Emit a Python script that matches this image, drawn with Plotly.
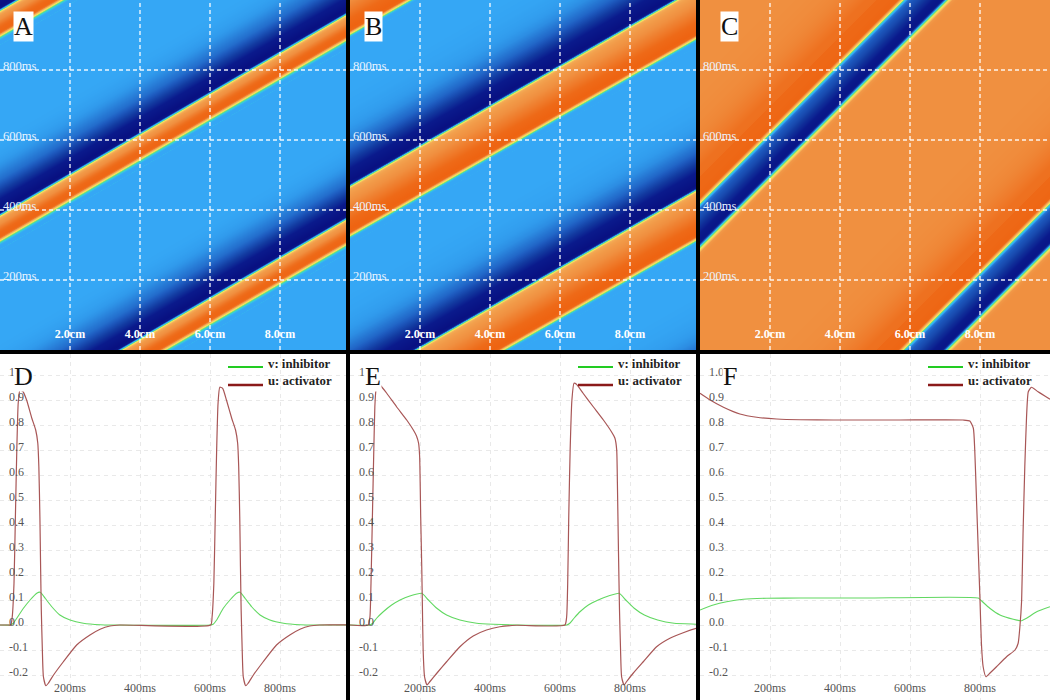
import numpy as np
import plotly.graph_objects as go

# ---------- values ----------
x_ticks = [2, 4, 6, 8]
x_tick_labels = ["2.0cm", "4.0cm", "6.0cm", "8.0cm"]
t_ticks = [200, 400, 600, 800]
t_tick_labels = ["200ms", "400ms", "600ms", "800ms"]
val_ticks = [-0.2, -0.1, 0, 0.1, 0.2, 0.3, 0.4, 0.5, 0.6, 0.7, 0.8, 0.9, 1]
val_labels_de = ["-0.2", "-0.1", "0.0", "0.1", "0.2", "0.3", "0.4", "0.5", "0.6", "0.7", "0.8", "0.9", "1"]
val_labels_f = ["-0.2", "-0.1", "0.0", "0.1", "0.2", "0.3", "0.4", "0.5", "0.6", "0.7", "0.8", "0.9", "1.0"]
legend_names = ["v: inhibitor", "u: activator"]

d_u_t = [0, 24, 31, 35, 40, 44, 48, 52, 57, 65, 76, 91, 102, 108, 111, 114, 116, 118, 121, 124, 131, 138, 153, 181,
         219, 257, 286, 314, 343, 602, 606, 611, 615, 619, 623, 628, 636, 647, 662, 673, 679, 682, 685, 687, 689,
         692, 695, 702, 709, 724, 752, 790, 828, 857, 885, 914, 1000]
d_u = [0, 0, 0, .033, .167, .433, .70, .887, .94, .935, .90, .827, .78, .727, .633, .433, .233, .06, -.1, -.207,
       -.243, -.233, -.2, -.147, -.08, -.04, -.017, -.004, 0, 0, .033, .167, .433, .70, .887, .951, .947, .90, .827,
       .78, .727, .633, .433, .233, .06, -.1, -.207, -.243, -.233, -.2, -.147, -.08, -.04, -.017, -.004, 0, 0]
d_v_t = [0, 29, 38, 48, 67, 86, 105, 115, 129, 148, 171, 200, 238, 286, 324, 600, 609, 619, 638, 657, 676, 686,
         700, 719, 743, 771, 810, 857, 914, 1000]
d_v = [0, 0, .007, .027, .067, .1, .127, .131, .107, .073, .04, .02, .007, .001, 0, 0, .003, .02, .067, .1, .127,
       .131, .107, .073, .04, .02, .007, .001, 0, 0]

e_u_t = [0, 52, 57, 60, 64, 68, 71, 74, 81, 86, 105, 133, 162, 181, 190, 196, 199, 202, 205, 207, 209, 213, 220,
         228, 248, 276, 314, 352, 390, 428, 476, 614, 619, 622, 625, 629, 634, 640, 647, 666, 695, 724, 747, 757,
         762, 764, 767, 770, 773, 776, 783, 790, 809, 838, 876, 914, 952, 990, 1000]
e_u = [0, 0, .033, .167, .433, .70, .873, .937, .965, .96, .927, .873, .82, .78, .756, .727, .673, .433, .233, .06,
       -.1, -.207, -.24, -.227, -.193, -.147, -.087, -.044, -.02, -.007, -.001, 0, .033, .167, .433, .70, .90, .967,
       .963, .927, .873, .82, .773, .747, .70, .567, .30, .06, -.1, -.207, -.24, -.227, -.193, -.147, -.087, -.053,
       -.031, -.013, -.01]
e_v_t = [0, 57, 65, 76, 95, 119, 143, 171, 205, 224, 248, 276, 314, 362, 409, 476, 619, 628, 640, 657, 681, 709,
         738, 769, 788, 812, 841, 879, 926, 990, 1000]
e_v = [0, 0, .007, .027, .053, .08, .1, .116, .127, .1, .067, .04, .02, .007, .003, 0, 0, .007, .027, .053, .08, .1,
       .116, .127, .1, .067, .04, .02, .007, .003, .002]

f_u_t = [0, 29, 67, 114, 162, 219, 286, 381, 571, 752, 771, 781, 785, 790, 795, 800, 804, 809, 817, 828, 847, 876,
         900, 909, 914, 919, 923, 928, 933, 938, 947, 966, 1000]
f_u = [.927, .90, .871, .844, .831, .824, .821, .82, .82, .82, .816, .787, .70, .50, .30, .10, -.073, -.167, -.207,
       -.193, -.167, -.127, -.10, -.073, -.007, .10, .367, .633, .833, .933, .951, .933, .903]
f_v_t = [0, 38, 76, 124, 190, 286, 476, 795, 804, 828, 857, 895, 919, 933, 962, 1000]
f_v = [.06, .08, .093, .103, .107, .108, .108, .108, .097, .067, .04, .023, .017, .027, .053, .073]

# Travelling-wave parameters read from the band edges of A, B, C:
# delay per cm (ms/cm), period (ms), time of the upstroke at x=0 (ms), source-curve time of that upstroke (ms)
a_wave = dict(delay=58, period=585, front=314, src=44)
b_wave = dict(delay=57, period=576, front=329, src=64)
c_wave = dict(delay=100, period=1000, front=422, src=923)

# ---------- helpers ----------
W, H = 1050, 700
cols = [(0, 346), (350, 696), (700, 1050)]
X_CM_PER_PX = 10 / 350
T_MS_PER_PX = 1000 / 350


def dom_x(a, b):
    return [a / W, b / W]


def dom_y(top, bottom):
    return [1 - bottom / H, 1 - top / H]


def wave_field(ut, u, wave, n):
    """Space-time map of one read activator curve, delayed along x."""
    xs = np.linspace(0, 10, n)
    ts = np.linspace(0, 1000, n)
    X, T = np.meshgrid(xs, ts)
    lead = 24
    phase = np.mod(T - (wave["front"] - lead) - wave["delay"] * X, wave["period"])
    tau = wave["src"] - lead + phase
    if wave["period"] == 1000:
        Z = np.interp(np.mod(tau, 1000), ut, u, period=1000)
    else:
        Z = np.interp(tau, ut, u)
    return xs, ts, np.round(Z, 3)


colorscale_raw = [
    (-0.25, "#080F80"), (-0.18, "#0A1A8C"), (-0.14, "#123AA0"), (-0.10, "#1E5CC0"), (-0.03, "#309AEC"),
    (0.0, "#35A7F5"), (0.06, "#35C4E8"), (0.15, "#45D8B0"), (0.28, "#A0E060"), (0.42, "#EEE860"),
    (0.55, "#F8D060"), (0.70, "#F4AE58"), (0.82, "#F09040"), (0.86, "#EF8030"), (0.92, "#EE6A18"), (1.0, "#EE5E0C"),
]
lo, hi = colorscale_raw[0][0], colorscale_raw[-1][0]
colorscale = [[(v - lo) / (hi - lo), c] for v, c in colorscale_raw]

SERIF = "Liberation Serif, Times New Roman, serif"
fig = go.Figure()
shapes = []
annotations = []
layout = {}

heat_sources = [(d_u_t, d_u, a_wave), (e_u_t, e_u, b_wave), (f_u_t, f_u, c_wave)]
line_sources = [(d_u_t, d_u, d_v_t, d_v), (e_u_t, e_u, e_v_t, e_v), (f_u_t, f_u, f_v_t, f_v)]
letters_top = [("A", 23.5), ("B", 373), ("C", 729)]
letters_bot = [("D", 23.5), ("E", 372.5), ("F", 730)]
legend_styles = [("#22CC22", 2.2, 367, 364), ("#8B1A1A", 2.6, 385, 381)]

for i, (a, b) in enumerate(cols):
    # top row
    n = 2 * i + 1
    sx = "" if n == 1 else str(n)
    xs, ts, Z = wave_field(*heat_sources[i], 351)
    fig.add_trace(go.Heatmap(x=xs, y=ts, z=Z, colorscale=colorscale, zmin=lo, zmax=hi, showscale=False,
                             zsmooth="best", hoverinfo="skip", xaxis="x" + sx, yaxis="y" + sx))
    layout["xaxis" + sx] = dict(domain=dom_x(a, b), range=[0, (b - a) * X_CM_PER_PX], anchor="y" + sx,
                                tickvals=x_ticks, ticktext=x_tick_labels, ticklabelposition="inside",
                                ticklabelstandoff=7, showgrid=False, zeroline=False, ticks="",
                                tickfont=dict(family=SERIF, size=12, color="#FFFFFF", weight="bold"))
    layout["yaxis" + sx] = dict(domain=dom_y(0, 350), range=[0, 1000], anchor="x" + sx,
                                tickvals=t_ticks, ticktext=t_tick_labels, ticklabelposition="inside",
                                ticklabelstandoff=0, ticklabelshift=-4, showgrid=False, zeroline=False, ticks="",
                                tickfont=dict(family=SERIF, size=12.5, color="#EAF4FF"))
    for xv in x_ticks:
        shapes.append(dict(type="line", xref="x" + sx, yref="y" + sx, x0=xv, x1=xv, y0=0, y1=1000, layer="above",
                           line=dict(color="rgba(255,255,255,0.9)", width=1.4, dash="4px,3px")))
    for tv in t_ticks:
        shapes.append(dict(type="line", xref="x" + sx, yref="y" + sx, x0=0, x1=(b - a) * X_CM_PER_PX, y0=tv, y1=tv,
                           layer="above", line=dict(color="rgba(255,255,255,0.9)", width=1.4, dash="4px,3px")))

    # bottom row
    m = 2 * i + 2
    sy = str(m)
    ut, u, vt, v = line_sources[i]
    fig.add_trace(go.Scatter(x=vt, y=v, mode="lines", name=legend_names[0], showlegend=False,
                             line=dict(color="#62D862", width=1.1, shape="spline", smoothing=0.5),
                             xaxis="x" + sy, yaxis="y" + sy, hoverinfo="skip"))
    fig.add_trace(go.Scatter(x=ut, y=u, mode="lines", name=legend_names[1], showlegend=False,
                             line=dict(color="#A85656", width=1.2, shape="spline", smoothing=0.5),
                             xaxis="x" + sy, yaxis="y" + sy, hoverinfo="skip"))
    layout["xaxis" + sy] = dict(domain=dom_x(a, b), range=[0, (b - a) * T_MS_PER_PX], anchor="y" + sy,
                                tickvals=t_ticks, ticktext=t_tick_labels, ticklabelposition="inside",
                                ticklabelstandoff=3, showgrid=True, gridcolor="#E9E9E9", griddash="4px,4px",
                                gridwidth=1, zeroline=False, ticks="",
                                tickfont=dict(family=SERIF, size=12, color="#555555"))
    layout["yaxis" + sy] = dict(domain=dom_y(354, 700), range=[-0.3, 1.084], anchor="x" + sy,
                                tickvals=val_ticks, ticktext=val_labels_f if i == 2 else val_labels_de,
                                ticklabelposition="inside", ticklabelstandoff=6, ticklabelshift=-3,
                                showgrid=True, gridcolor="#E9E9E9", griddash="4px,4px", gridwidth=1,
                                zeroline=False, ticks="",
                                tickfont=dict(family=SERIF, size=12, color="#555555"))

    # legend key: sample line plus label
    for name, (color, lw, line_y, text_y) in zip(legend_names, legend_styles):
        shapes.append(dict(type="line", xref="paper", yref="paper", x0=(a + 228) / W, x1=(a + 263) / W,
                           y0=1 - line_y / H, y1=1 - line_y / H, layer="above", line=dict(color=color, width=lw)))
        annotations.append(dict(text=name, xref="paper", yref="paper", x=(a + 267) / W, y=1 - text_y / H,
                                showarrow=False, xanchor="left", yanchor="middle", borderpad=0,
                                font=dict(family=SERIF, size=12.8, color="#222222", weight="bold")))

    for letter, cx, cy in [(letters_top[i][0], letters_top[i][1], 26), (letters_bot[i][0], letters_bot[i][1], 376)]:
        annotations.append(dict(text=letter, xref="paper", yref="paper", x=cx / W, y=1 - cy / H, showarrow=False,
                                xanchor="center", yanchor="middle", bgcolor="#FFFFFF", borderpad=0,
                                font=dict(family=SERIF, size=26, color="#111111")))

fig.update_layout(width=W, height=H, autosize=False, margin=dict(l=0, r=0, t=0, b=0, pad=0),
                  paper_bgcolor="#000000", plot_bgcolor="#FFFFFF", shapes=shapes, annotations=annotations,
                  showlegend=False, **layout)

fig.write_html("out.html", config={"displayModeBar": False, "responsive": False},
               post_script="document.body.style.margin='0';document.body.style.overflow='hidden';"
                           "document.body.style.background='#000';")
